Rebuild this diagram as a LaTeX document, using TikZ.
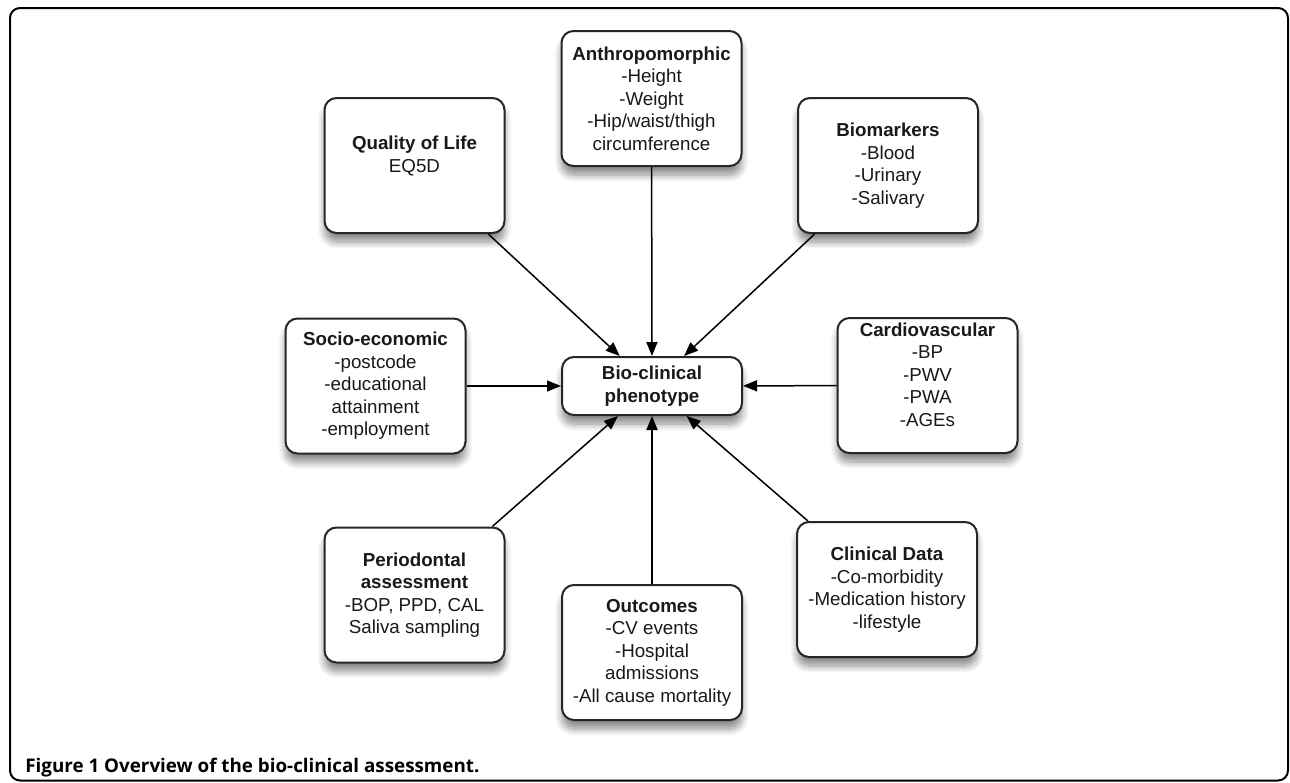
\documentclass[tikz,border=0pt]{standalone}
\usepackage{fontspec}
\setmainfont{Liberation Sans}
\newfontfamily\capfont{Open Sans}
\usetikzlibrary{arrows.meta,shadows.blur}
\begin{document}
\begin{tikzpicture}[x=0.5pt,y=-0.5pt,
  box/.style={draw=black!85, line width=1pt, rounded corners=6pt, fill=white,
    minimum width=90pt, minimum height=67.5pt, inner sep=0pt, align=center,
    font=\fontsize{9.375pt}{11.25pt}\selectfont, text=black!90,
    blur shadow={shadow xshift=0pt, shadow yshift=-4.5pt, shadow blur steps=8,
      shadow opacity=45, shadow blur radius=3.5pt}},
  link/.style={line width=0.75pt, -{Triangle[length=7pt,width=5.5pt]}}]
\useasboundingbox (0,0) rectangle (1290,782);
\draw[line width=1pt, rounded corners=5pt] (10,8) rectangle (1288,780.5);

\node[box] (anth) at (651.5,98.5) {\textbf{Anthropomorphic}\\-Height\\-Weight\\-Hip/waist/thigh\\circumference};
\node[box] (qol) at (414.5,165.5) {\textbf{Quality of Life}\\EQ5D\\\mbox{}};
\node[box] (bio) at (888,165.5) {\textbf{Biomarkers}\\-Blood\\-Urinary\\-Salivary};
\node[box] (soc) at (375.5,386) {\textbf{Socio-economic}\\-postcode\\-educational\\attainment\\-employment};
\node[box, minimum height=29pt] (cen) at (652,386) {\textbf{Bio-clinical}\\\textbf{phenotype}};
\node[box] (car) at (927.5,385.5) {\textbf{Cardiovascular}\\-BP\\-PWV\\-PWA\\-AGEs\\\mbox{}};
\node[box] (per) at (414.5,595) {\textbf{Periodontal}\\\textbf{assessment}\\-BOP, PPD, CAL\\Saliva sampling};
\node[box] (out) at (652,652.5) {\textbf{Outcomes}\\-CV events\\-Hospital\\admissions\\-All cause mortality};
\node[box] (cli) at (887,589.5) {\textbf{Clinical Data}\\-Co-morbidity\\-Medication history\\-lifestyle};

\draw[link] (qol) -- (cen);
\draw[link] (anth) -- (cen);
\draw[link] (bio) -- (cen);
\draw[link] (soc) -- (cen);
\draw[link] (car) -- (cen);
\draw[link] (per) -- (cen);
\draw[link, line width=1pt] (out) -- (cen);
\draw[link] (cli) -- (cen);

\node[anchor=west, inner sep=0pt, font=\capfont\bfseries\fontsize{9.4pt}{11pt}\selectfont] (cap) at (25,768) {Figure 1 Overview of the bio-clinical assessment.};
\end{tikzpicture}
\end{document}
